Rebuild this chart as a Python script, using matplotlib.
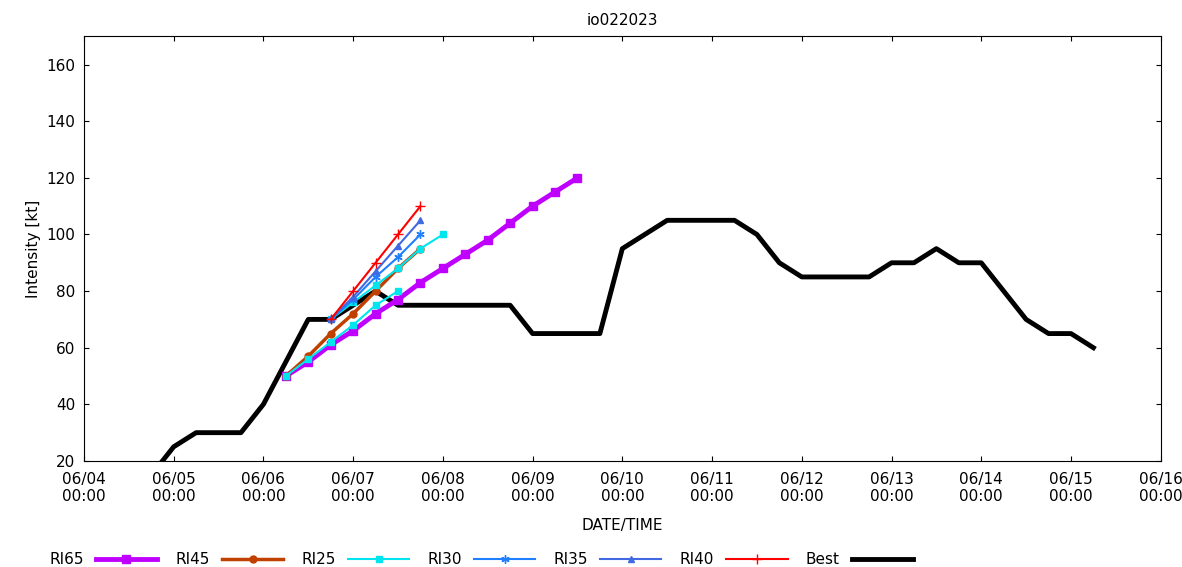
import matplotlib
matplotlib.use("Agg")
import matplotlib.pyplot as plt
import numpy as np

# times in hours since 06/04 00:00
best_t = list(range(18, 18 + 6*43, 6))
best_v = [15,25,30,30,30,40,55,70,70,75,80,75,75,75,75,75,75,65,65,65,65,95,100,105,105,105,105,100,90,85,85,85,85,90,90,95,90,90,80,70,65,65,60]
best_t = best_t[:len(best_v)]

ri65_t = list(range(54, 54 + 6*14, 6))
ri65_v = [50,55,61,66,72,77,83,88,93,98,104,110,115,120]
ri45_t = list(range(54, 54 + 6*7, 6))
ri45_v = [50,57,65,72,80,88,95]
ri25a_t = list(range(54, 54 + 6*6, 6))
ri25a_v = [50,56,62,68,75,80]
ri25b_t = list(range(66, 66 + 6*6, 6))
ri25b_v = [70,76,82,88,95,100]
ri30_t = list(range(66, 66 + 6*5, 6))
ri30_v = [70,77,85,92,100]
ri35_t = list(range(66, 66 + 6*5, 6))
ri35_v = [70,78,87,96,105]
ri40_t = list(range(66, 66 + 6*5, 6))
ri40_v = [70,80,90,100,110]

xtick_labels = [f"06/{d:02d}\n00:00" for d in range(4, 17)]

fig = plt.figure(figsize=(11.82, 5.67), dpi=100)
ax = fig.add_axes([0.071, 0.187, 0.911, 0.749])
d = lambda t: np.array(t) / 24.0

ax.plot(d(ri65_t), ri65_v, color="#bf00ff", lw=3.5, marker="s", ms=6, label="RI65", zorder=3)
ax.plot(d(ri45_t), ri45_v, color="#c04000", lw=2.5, marker="o", ms=5, label="RI45", zorder=3)
ax.plot(d(ri25a_t), ri25a_v, color="#00e5ee", lw=1.5, marker="s", ms=5, label="RI25", zorder=4)
ax.plot(d(ri25b_t), ri25b_v, color="#00e5ee", lw=1.5, marker="s", ms=5, zorder=4)
ax.plot(d(ri30_t), ri30_v, color="#1e7fff", lw=1.5, marker=(6, 2, 0), ms=6, label="RI30", zorder=4)
ax.plot(d(ri35_t), ri35_v, color="#4169e1", lw=1.5, marker="^", ms=5, label="RI35", zorder=4)
ax.plot(d(ri40_t), ri40_v, color="#ff0000", lw=1.5, marker="+", ms=7, label="RI40", zorder=4)
ax.plot(d(best_t), best_v, color="black", lw=3.5, label="Best", zorder=2)

ax.set_xlim(0, 12)
ax.set_ylim(20, 170)
ax.set_xticks(range(13))
ax.set_xticklabels(xtick_labels)
ax.set_yticks(range(20, 161, 20))
ax.tick_params(direction="in", labelsize=11, top=True, right=True)
ax.tick_params(axis="x", pad=8)
ax.tick_params(axis="y", pad=6)
ax.set_xlabel("DATE/TIME", fontsize=11, labelpad=10)
ax.set_ylabel("Intensity [kt]", fontsize=11)
ax.set_title("io022023", fontsize=11, pad=8)
fig.legend(loc="lower left", bbox_to_anchor=(0.03, -0.025), ncol=7, frameon=False,
           fontsize=11, markerfirst=False, handlelength=4, columnspacing=1.2)
fig.savefig("out.png", dpi=100)
